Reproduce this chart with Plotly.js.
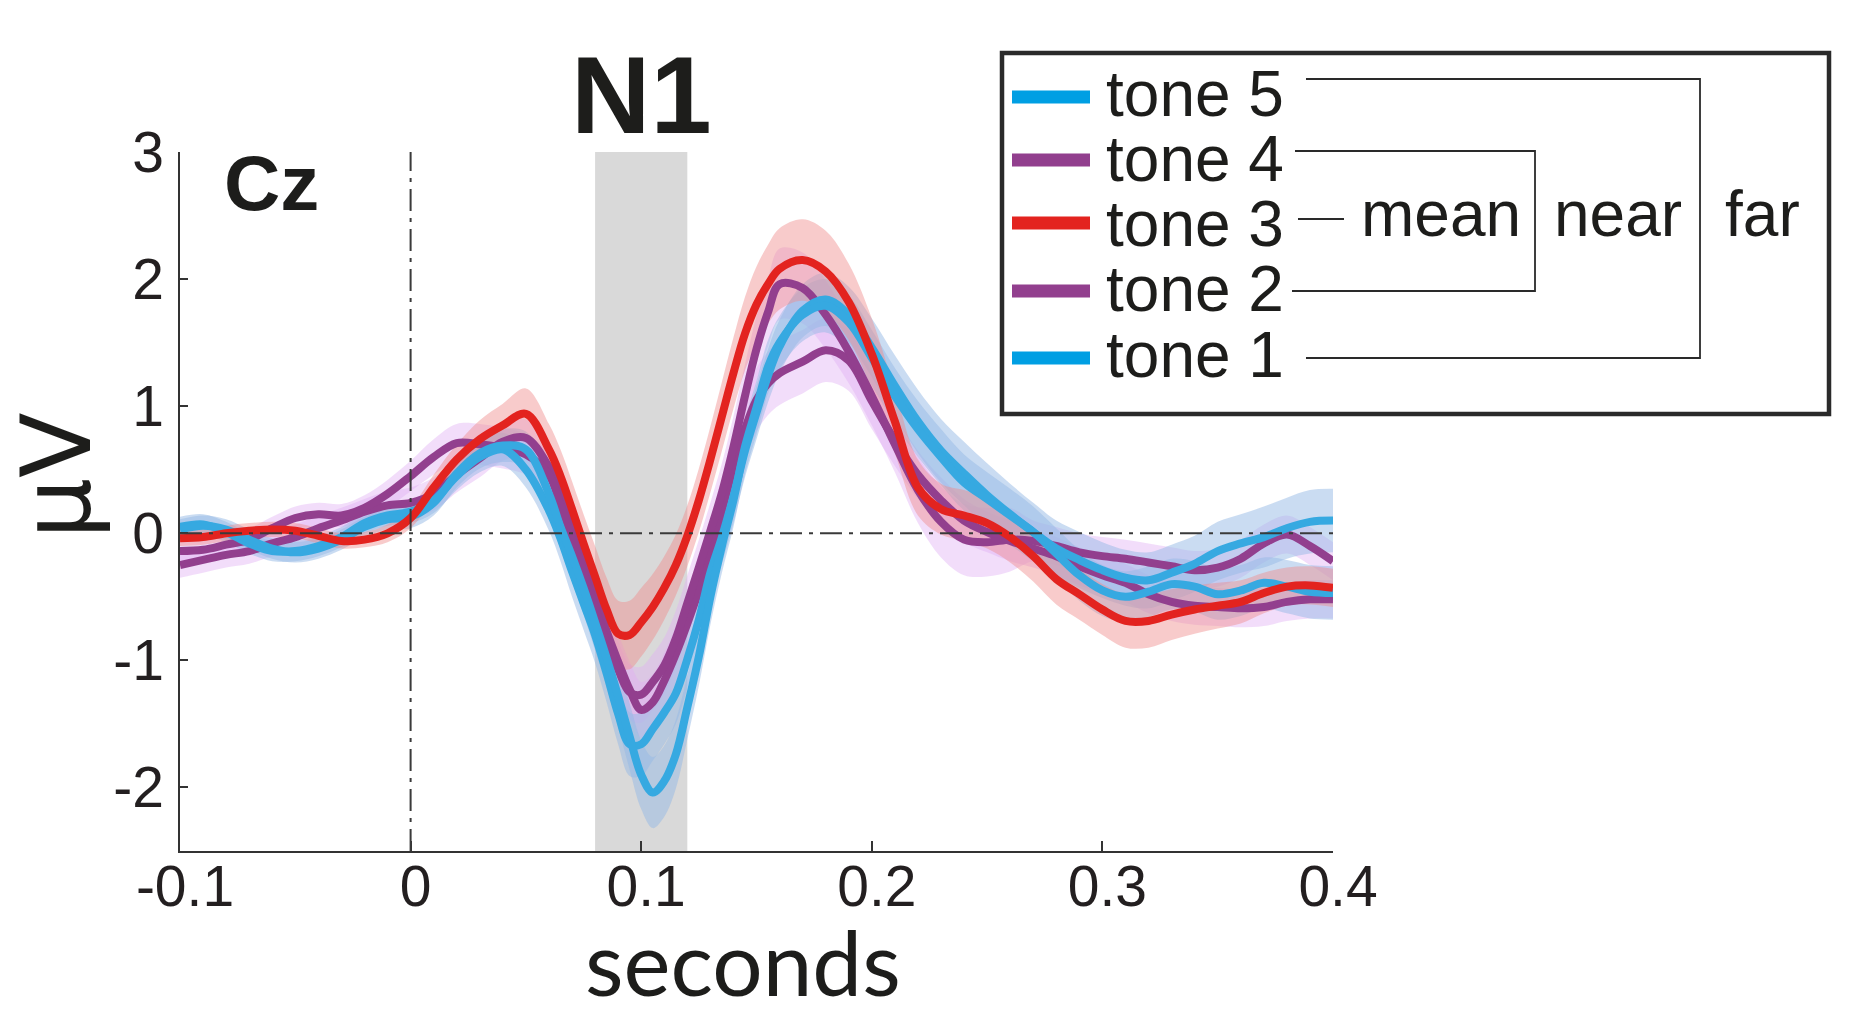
<!DOCTYPE html>
<html>
<head>
<meta charset="utf-8">
<script src="https://cdn.plot.ly/plotly-3.0.1.min.js"></script>
<style>
html,body{margin:0;padding:0;background:#ffffff;}
#chart{width:1854px;height:1018px;}
</style>
</head>
<body>
<div id="chart"></div>
<script>
// ---------------- DATA ----------------
const time = [-0.10,-0.09,-0.08,-0.07,-0.06,-0.05,-0.04,-0.03,-0.02,-0.01,0.00,0.01,0.02,0.03,0.04,0.05,0.06,
  0.065,0.07,0.075,0.08,0.085,0.09,0.095,0.10,0.105,0.11,0.115,0.12,0.125,0.13,0.135,0.14,0.145,0.15,0.155,
  0.16,0.17,0.18,0.19,0.20,0.21,0.22,0.23,0.24,0.25,0.26,0.27,0.28,0.29,0.30,0.31,0.32,0.33,0.34,0.35,0.36,0.37,0.38,0.39,0.40];

// tone 3 (red)
const tone3 = [-0.04,-0.03,0.00,0.02,0.03,0.02,-0.02,-0.06,-0.05,0.00,0.12,0.36,0.58,0.74,0.85,0.94,0.66,
  0.45,0.19,-0.08,-0.34,-0.60,-0.79,-0.80,-0.70,-0.58,-0.43,-0.25,-0.02,0.26,0.58,0.92,1.26,1.57,1.80,1.96,
  2.08,2.15,2.06,1.82,1.41,0.88,0.36,0.19,0.14,0.08,-0.03,-0.18,-0.36,-0.48,-0.60,-0.69,-0.69,-0.64,-0.60,-0.57,-0.54,-0.47,-0.42,-0.41,-0.43];
const err3 = [0.06,0.06,0.06,0.06,0.06,0.06,0.06,0.06,0.06,0.07,0.08,0.10,0.12,0.15,0.17,0.20,0.20,
  0.21,0.22,0.23,0.24,0.25,0.26,0.27,0.27,0.26,0.25,0.24,0.24,0.25,0.26,0.27,0.28,0.29,0.30,0.31,
  0.32,0.32,0.32,0.30,0.28,0.25,0.22,0.20,0.20,0.20,0.20,0.20,0.20,0.20,0.20,0.21,0.21,0.20,0.19,0.18,0.17,0.16,0.15,0.15,0.15];

// tone 4 (purple)
const tone4 = [-0.14,-0.13,-0.09,-0.05,0.04,0.12,0.15,0.14,0.20,0.31,0.45,0.60,0.71,0.70,0.67,0.62,0.46,
  0.22,-0.03,-0.30,-0.59,-0.86,-1.07,-1.25,-1.27,-1.17,-1.04,-0.83,-0.55,-0.27,0.02,0.32,0.68,1.08,1.45,1.74,
  1.96,1.93,1.72,1.43,1.08,0.70,0.34,0.09,-0.05,-0.07,-0.05,-0.06,-0.10,-0.15,-0.18,-0.20,-0.23,-0.26,-0.29,-0.27,-0.20,-0.08,-0.01,-0.10,-0.22];
const err4 = [0.09,0.09,0.09,0.09,0.09,0.09,0.09,0.09,0.10,0.11,0.12,0.14,0.15,0.16,0.16,0.16,0.17,
  0.18,0.19,0.20,0.21,0.22,0.22,0.22,0.22,0.22,0.22,0.22,0.22,0.22,0.22,0.23,0.24,0.25,0.26,0.27,
  0.28,0.28,0.27,0.25,0.23,0.22,0.26,0.28,0.28,0.27,0.25,0.16,0.15,0.15,0.15,0.15,0.15,0.15,0.15,0.15,0.15,0.15,0.15,0.15,0.15];

// tone 2 (purple)
const tone2 = [-0.25,-0.21,-0.17,-0.14,-0.08,-0.03,0.04,0.10,0.17,0.22,0.24,0.31,0.46,0.59,0.72,0.75,0.52,
  0.33,0.10,-0.18,-0.47,-0.77,-1.01,-1.23,-1.39,-1.33,-1.16,-0.95,-0.71,-0.45,-0.16,0.18,0.52,0.82,1.05,1.18,
  1.26,1.35,1.44,1.36,1.04,0.73,0.46,0.26,0.10,0.01,-0.06,-0.12,-0.18,-0.26,-0.33,-0.39,-0.48,-0.54,-0.57,-0.58,-0.59,-0.58,-0.54,-0.52,-0.52];
const err2 = [0.10,0.10,0.10,0.10,0.10,0.10,0.10,0.10,0.10,0.11,0.12,0.13,0.14,0.15,0.15,0.15,0.16,
  0.17,0.18,0.19,0.20,0.21,0.22,0.22,0.22,0.22,0.22,0.22,0.22,0.22,0.22,0.23,0.24,0.25,0.25,0.25,
  0.25,0.25,0.25,0.24,0.22,0.20,0.19,0.18,0.17,0.16,0.16,0.15,0.15,0.15,0.15,0.15,0.15,0.15,0.15,0.15,0.15,0.15,0.15,0.15,0.15];

// tone 1 (blue)
const tone1 = [0.05,0.07,0.01,-0.08,-0.14,-0.14,-0.10,-0.03,0.08,0.14,0.17,0.26,0.45,0.60,0.66,0.50,0.18,
  -0.04,-0.30,-0.55,-0.80,-1.10,-1.42,-1.66,-1.66,-1.54,-1.41,-1.26,-0.99,-0.68,-0.31,-0.03,0.29,0.65,0.95,1.24,
  1.47,1.75,1.84,1.72,1.46,1.16,0.88,0.65,0.47,0.30,0.15,0.01,-0.12,-0.21,-0.29,-0.35,-0.37,-0.31,-0.24,-0.14,-0.08,-0.03,0.04,0.09,0.10];
const err1 = [0.08,0.08,0.08,0.08,0.08,0.08,0.08,0.08,0.08,0.08,0.09,0.10,0.11,0.12,0.13,0.14,0.16,
  0.18,0.20,0.21,0.22,0.23,0.24,0.25,0.25,0.25,0.25,0.24,0.23,0.22,0.21,0.21,0.21,0.21,0.21,0.21,
  0.21,0.21,0.21,0.22,0.23,0.24,0.25,0.25,0.25,0.25,0.24,0.23,0.22,0.22,0.22,0.22,0.22,0.22,0.22,0.23,0.23,0.24,0.24,0.25,0.25];

// tone 5 (blue)
const tone5 = [0.03,0.06,0.03,-0.05,-0.12,-0.15,-0.12,-0.05,0.05,0.11,0.13,0.24,0.47,0.63,0.69,0.66,0.31,
  0.05,-0.18,-0.43,-0.70,-0.98,-1.28,-1.60,-1.90,-2.04,-1.95,-1.74,-1.37,-0.97,-0.50,-0.10,0.26,0.68,0.99,1.31,
  1.50,1.72,1.79,1.66,1.38,1.08,0.82,0.60,0.40,0.27,0.14,0.01,-0.16,-0.33,-0.45,-0.50,-0.46,-0.40,-0.42,-0.48,-0.45,-0.39,-0.42,-0.46,-0.47];
const err5 = [0.08,0.08,0.08,0.08,0.08,0.08,0.08,0.08,0.08,0.08,0.09,0.10,0.11,0.12,0.13,0.14,0.16,
  0.18,0.20,0.21,0.22,0.23,0.24,0.26,0.27,0.28,0.28,0.27,0.25,0.23,0.22,0.21,0.21,0.21,0.21,0.21,
  0.21,0.21,0.21,0.21,0.22,0.22,0.22,0.22,0.22,0.21,0.21,0.20,0.20,0.20,0.20,0.20,0.20,0.20,0.20,0.20,0.20,0.20,0.21,0.21,0.21];

const legendNames = ['tone 5','tone 4','tone 3','tone 2','tone 1'];
const groupLabels = ['mean','near','far'];
const xTickVals = [-0.1,0,0.1,0.2,0.3,0.4];
const xTickText = ['-0.1','0','0.1','0.2','0.3','0.4'];
const yTickVals = [-2,-1,0,1,2,3];
const yTickText = ['-2','-1','0','1','2','3'];
const n1Window = [0.08,0.12];
const channelLabel = 'Cz';
const componentLabel = 'N1';
const xTitle = 'seconds';
const yTitle = 'μV';

// ---------------- STYLE ----------------
const C_BLUE = '#36a9e1', C_PURPLE = '#923f8e', C_RED = '#e3231f';
const LEG_BLUE = '#009fe3';
const BAND_BLUE = 'rgba(150,185,230,0.5)';
const BAND_PURPLE = 'rgba(225,175,242,0.42)';
const BAND_RED = 'rgba(240,140,140,0.45)';
const TXT = '#1d1d1b';
const FONT_TICK = 'Liberation Sans, Arial, Helvetica, sans-serif';

// plot area in pixels
const PL = 180, PR = 1333, PT = 152, PB = 851;
const px = X => (X - PL) / (PR - PL);
const py = Y => (PB - Y) / (PB - PT);

const series = [
  {y: tone2, e: err2, c: C_PURPLE, band: BAND_PURPLE, name: 'tone 2'},
  {y: tone4, e: err4, c: C_PURPLE, band: BAND_PURPLE, name: 'tone 4'},
  {y: tone1, e: err1, c: C_BLUE, band: BAND_BLUE, name: 'tone 1'},
  {y: tone5, e: err5, c: C_BLUE, band: BAND_BLUE, name: 'tone 5'},
  {y: tone3, e: err3, c: C_RED, band: BAND_RED, name: 'tone 3'}
];

const traces = [];
series.forEach(s => {
  traces.push({x: time, y: s.y.map((v,i)=>v + s.e[i]), type:'scatter', mode:'lines',
    line:{width:0, shape:'spline', smoothing:1}, showlegend:false, hoverinfo:'skip'});
  traces.push({x: time, y: s.y.map((v,i)=>v - s.e[i]), type:'scatter', mode:'lines',
    line:{width:0, shape:'spline', smoothing:1}, fill:'tonexty', fillcolor: s.band,
    showlegend:false, hoverinfo:'skip'});
});
series.forEach(s => {
  traces.push({x: time, y: s.y, type:'scatter', mode:'lines', name: s.name,
    line:{color: s.c, width:8, shape:'spline', smoothing:1}, showlegend:false});
});

// ---------------- SHAPES ----------------
const DASH = '22px,7px,4px,7px';
const shapes = [
  {type:'rect', xref:'x', yref:'y', x0:n1Window[0], x1:n1Window[1], y0:-2.5, y1:3,
   fillcolor:'#d9d9d9', line:{width:0}, layer:'below'},
  {type:'line', xref:'x', yref:'y', x0:0, x1:0, y0:-2.5, y1:3,
   line:{color:'#3a3a3a', width:2, dash:DASH}, layer:'above'},
  {type:'line', xref:'x', yref:'y', x0:-0.1, x1:0.4, y0:0, y1:0,
   line:{color:'#3a3a3a', width:2, dash:DASH}, layer:'above'},
  // legend frame
  {type:'rect', xref:'paper', yref:'paper', x0:px(1002), x1:px(1829), y0:py(414), y1:py(53),
   line:{color:'#2a2a2a', width:4.5}, fillcolor:'rgba(255,255,255,0)'}
];
const legendColors = [LEG_BLUE, C_PURPLE, C_RED, C_PURPLE, LEG_BLUE];
const rowY = [97, 160, 223, 291, 358];
legendColors.forEach((c,i) => {
  shapes.push({type:'line', xref:'paper', yref:'paper', x0:px(1012), x1:px(1090), y0:py(rowY[i]), y1:py(rowY[i]),
    line:{color:c, width:13}});
});
const brk = {color:'#2a2a2a', width:1.8};
const P = (X,Y) => px(X).toFixed(5) + ',' + py(Y).toFixed(5);
shapes.push({type:'path', xref:'paper', yref:'paper', line:brk,
  path:'M' + P(1306,79) + ' L' + P(1700,79) + ' L' + P(1700,358) + ' L' + P(1306,358)});
shapes.push({type:'path', xref:'paper', yref:'paper', line:brk,
  path:'M' + P(1295,151) + ' L' + P(1535,151) + ' L' + P(1535,291) + ' L' + P(1292,291)});
shapes.push({type:'path', xref:'paper', yref:'paper', line:brk,
  path:'M' + P(1298,219) + ' L' + P(1344,219)});

// ---------------- ANNOTATIONS ----------------
const annotations = [];
const legBase = [117, 182, 247, 312, 378];
legendNames.forEach((t,i) => {
  annotations.push({xref:'paper', yref:'paper', x:px(1104), y:py(legBase[i]-23), xanchor:'left', yanchor:'middle',
    text:t, showarrow:false, font:{family:FONT_TICK, size:64, color:TXT}});
});
const groupX = [1441, 1618, 1762];
groupLabels.forEach((t,i) => {
  annotations.push({xref:'paper', yref:'paper', x:px(groupX[i]), y:py(237-23), xanchor:'center', yanchor:'middle',
    text:t, showarrow:false, font:{family:FONT_TICK, size:64, color:TXT}});
});
annotations.push({xref:'paper', yref:'paper', x:px(222), y:py(183), xanchor:'left', yanchor:'middle',
  text:'<b>' + channelLabel + '</b>', showarrow:false, font:{family:FONT_TICK, size:78, color:TXT}});
annotations.push({xref:'x', yref:'paper', x:0.1, y:py(95), xanchor:'center', yanchor:'middle',
  text:'<b>' + componentLabel + '</b>', showarrow:false, font:{family:FONT_TICK, size:110, color:TXT}});
// axis titles, placed where the reference shows them
annotations.push({xref:'paper', yref:'paper', x:px(57), y:py(476), xanchor:'center', yanchor:'middle',
  text:yTitle, textangle:-90, showarrow:false,
  font:{family:'DejaVu Sans, Liberation Sans, sans-serif', size:96, color:TXT}});
annotations.push({xref:'paper', yref:'paper', x:px(743), y:py(1017), xanchor:'center', yanchor:'bottom',
  text:xTitle, showarrow:false, font:{family:'Lato, Open Sans, sans-serif', size:89, color:TXT}});

const layout = {
  width:1854, height:1018,
  margin:{l:PL, r:1854-PR, t:PT, b:1018-PB, pad:0},
  paper_bgcolor:'#ffffff', plot_bgcolor:'#ffffff',
  showlegend:false,
  xaxis:{range:[-0.1,0.4], tickmode:'array', tickvals:xTickVals, ticktext:xTickText,
    ticks:'inside', ticklen:10, tickwidth:1.5, tickcolor:'#333333',
    showline:true, linecolor:'#333333', linewidth:1.5, showgrid:false, zeroline:false,
    ticklabelstandoff:-15, ticklabelshift:5,
    tickfont:{family:FONT_TICK, size:57, color:'#231f20'}},
  yaxis:{range:[-2.5,3], tickmode:'array', tickvals:yTickVals, ticktext:yTickText,
    ticks:'inside', ticklen:8, tickwidth:1.5, tickcolor:'#333333',
    showline:true, linecolor:'#333333', linewidth:1.5, showgrid:false, zeroline:false,
    ticklabelstandoff:3,
    tickfont:{family:FONT_TICK, size:57, color:'#231f20'}},
  shapes:shapes,
  annotations:annotations
};

Plotly.newPlot('chart', traces, layout, {displayModeBar:false, responsive:false});
</script>
</body>
</html>
